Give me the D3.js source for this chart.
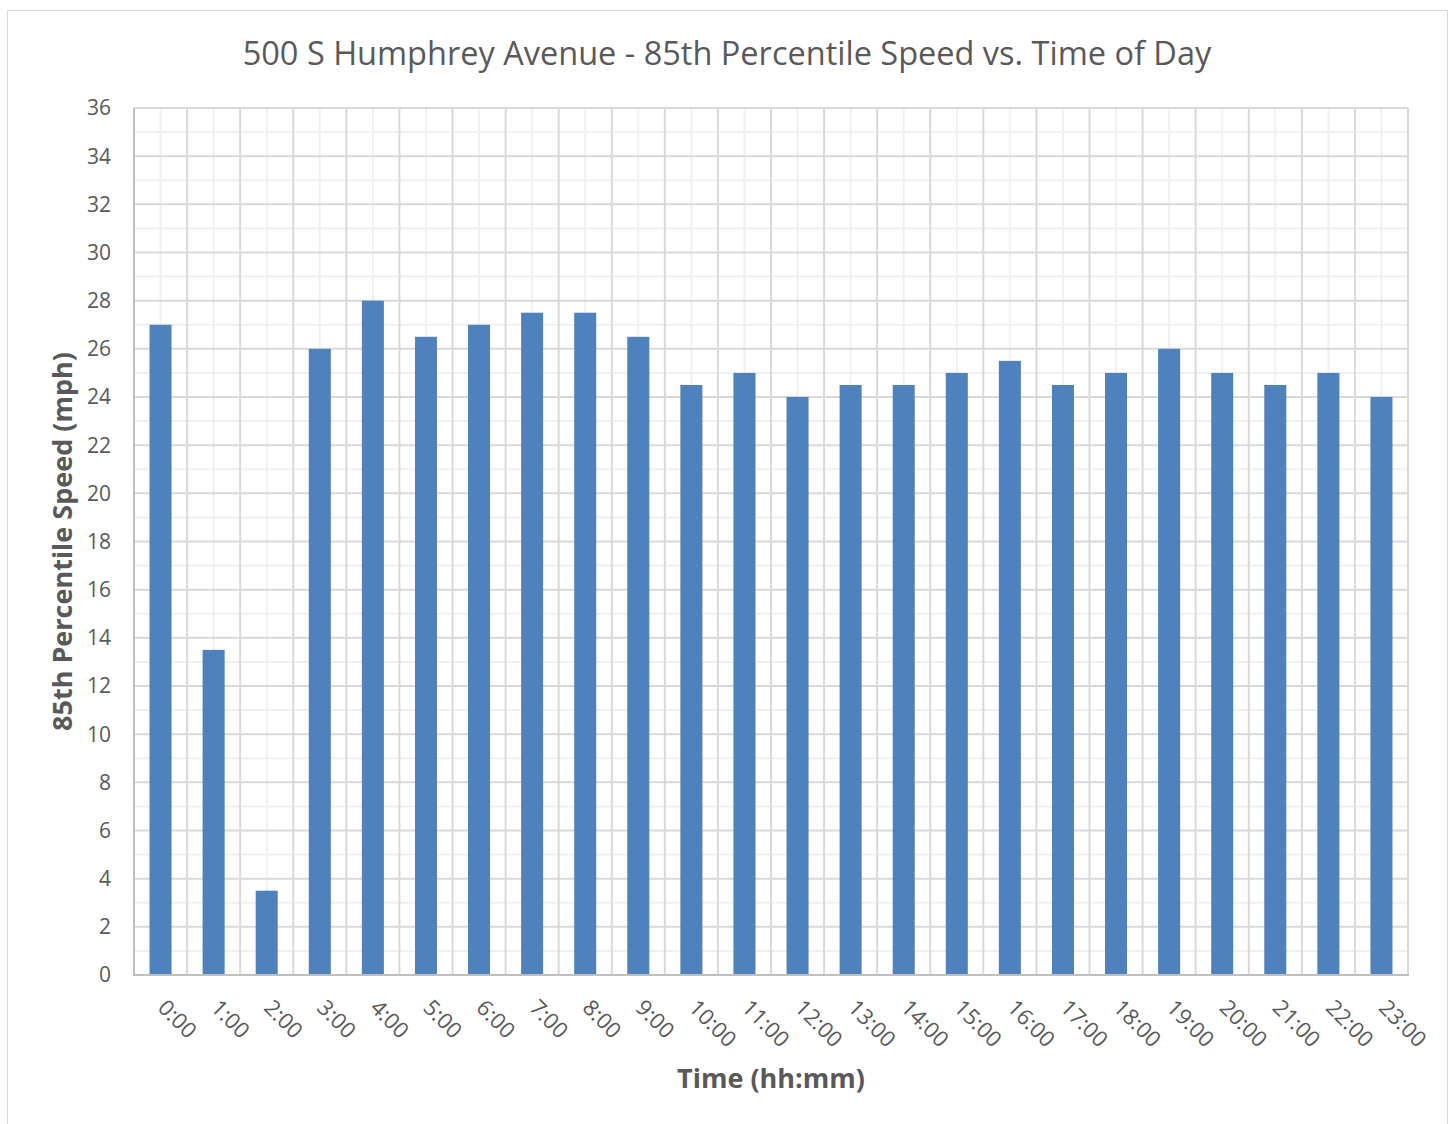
<!DOCTYPE html>
<html>
<head>
<meta charset="utf-8">
<script src="https://cdn.jsdelivr.net/npm/d3@7"></script>
<style>
  body { margin: 0; background: #fff; }
  text { font-family: "Open Sans", "Noto Sans", sans-serif; fill: #595959; }
</style>
</head>
<body>
<script>
var hours = ["0:00", "1:00", "2:00", "3:00", "4:00", "5:00", "6:00", "7:00", "8:00", "9:00",
             "10:00", "11:00", "12:00", "13:00", "14:00", "15:00", "16:00", "17:00", "18:00",
             "19:00", "20:00", "21:00", "22:00", "23:00"];
var speeds = [27, 13.5, 3.5, 26, 28, 26.5, 27, 27.5, 27.5, 26.5, 24.5, 25, 24, 24.5, 24.5,
              25, 25.5, 24.5, 25, 26, 25, 24.5, 25, 24];
var yTicks = d3.range(0, 37, 2);
var yMinor = d3.range(1, 36, 2);

var W = 1450, H = 1124;
var plotL = 134, plotR = 1408, plotT = 108, plotB = 975;

var svg = d3.select("body").append("svg")
    .attr("width", W)
    .attr("height", H);

// chart border
svg.append("rect")
    .attr("x", 7.5).attr("y", 10.5)
    .attr("width", 1440).attr("height", 1130)
    .attr("fill", "#fff")
    .attr("stroke", "#d9d9d9");

var x = d3.scaleBand()
    .domain(hours)
    .range([plotL, plotR])
    .paddingInner(0.585)
    .paddingOuter(0.2925);

var y = d3.scaleLinear()
    .domain([0, 36])
    .range([plotB, plotT]);

var step = x.step();
var grid = svg.append("g");

// minor horizontal lines
grid.selectAll(".hmin").data(yMinor).enter().append("line")
    .attr("x1", plotL).attr("x2", plotR)
    .attr("y1", function (d) { return y(d); })
    .attr("y2", function (d) { return y(d); })
    .attr("stroke", "#f0f0f0").attr("stroke-width", 2);

// minor vertical lines at band centres
grid.selectAll(".vmin").data(hours).enter().append("line")
    .attr("x1", function (d) { return x(d) + x.bandwidth() / 2; })
    .attr("x2", function (d) { return x(d) + x.bandwidth() / 2; })
    .attr("y1", plotT).attr("y2", plotB)
    .attr("stroke", "#f0f0f0").attr("stroke-width", 2);

// major horizontal lines
grid.selectAll(".hmaj").data(yTicks).enter().append("line")
    .attr("x1", plotL).attr("x2", plotR)
    .attr("y1", function (d) { return y(d); })
    .attr("y2", function (d) { return y(d); })
    .attr("stroke", "#d9d9d9").attr("stroke-width", 2);

// major vertical lines at band edges
grid.selectAll(".vmaj").data(d3.range(hours.length + 1)).enter().append("line")
    .attr("x1", function (i) { return plotL + i * step; })
    .attr("x2", function (i) { return plotL + i * step; })
    .attr("y1", plotT).attr("y2", plotB)
    .attr("stroke", "#d9d9d9").attr("stroke-width", 2);

// bars
svg.selectAll(".bar").data(speeds).enter().append("rect")
    .attr("x", function (d, i) { return x(hours[i]); })
    .attr("y", function (d) { return y(d); })
    .attr("width", x.bandwidth())
    .attr("height", function (d) { return y(0) - y(d); })
    .attr("fill", "#4f81bd");

// axis lines
svg.append("line")
    .attr("x1", plotL).attr("x2", plotL)
    .attr("y1", plotT).attr("y2", plotB)
    .attr("stroke", "#bfbfbf").attr("stroke-width", 2);
svg.append("line")
    .attr("x1", plotL - 1).attr("x2", plotR + 1)
    .attr("y1", plotB).attr("y2", plotB)
    .attr("stroke", "#bfbfbf").attr("stroke-width", 2);

// y tick labels
svg.selectAll(".ylab").data(yTicks).enter().append("text")
    .attr("x", 111)
    .attr("y", function (d) { return y(d); })
    .attr("dy", "0.35em")
    .attr("text-anchor", "end")
    .style("font-size", "21px")
    .text(function (d) { return d; });

// x tick labels, rotated 45deg
svg.selectAll(".xlab").data(hours).enter().append("text")
    .attr("transform", function (d) {
        return "translate(" + (x(d) + x.bandwidth() / 2 - 4) + "," + 1009 + ") rotate(45)";
    })
    .attr("text-anchor", "start")
    .style("font-size", "22px")
    .text(function (d) { return d; });

// title
svg.append("text")
    .attr("x", 727).attr("y", 65)
    .attr("text-anchor", "middle")
    .style("font-size", "32.5px")
    .text("500 S Humphrey Avenue - 85th Percentile Speed vs. Time of Day");

// axis titles
svg.append("text")
    .attr("x", (plotL + plotR) / 2).attr("y", 1088)
    .attr("text-anchor", "middle")
    .style("font-size", "27px").style("font-weight", "bold")
    .text("Time (hh:mm)");

svg.append("text")
    .attr("transform", "translate(72," + (plotT + plotB) / 2 + ") rotate(-90)")
    .attr("text-anchor", "middle")
    .style("font-size", "27px").style("font-weight", "bold")
    .text("85th Percentile Speed (mph)");
</script>
</body>
</html>
